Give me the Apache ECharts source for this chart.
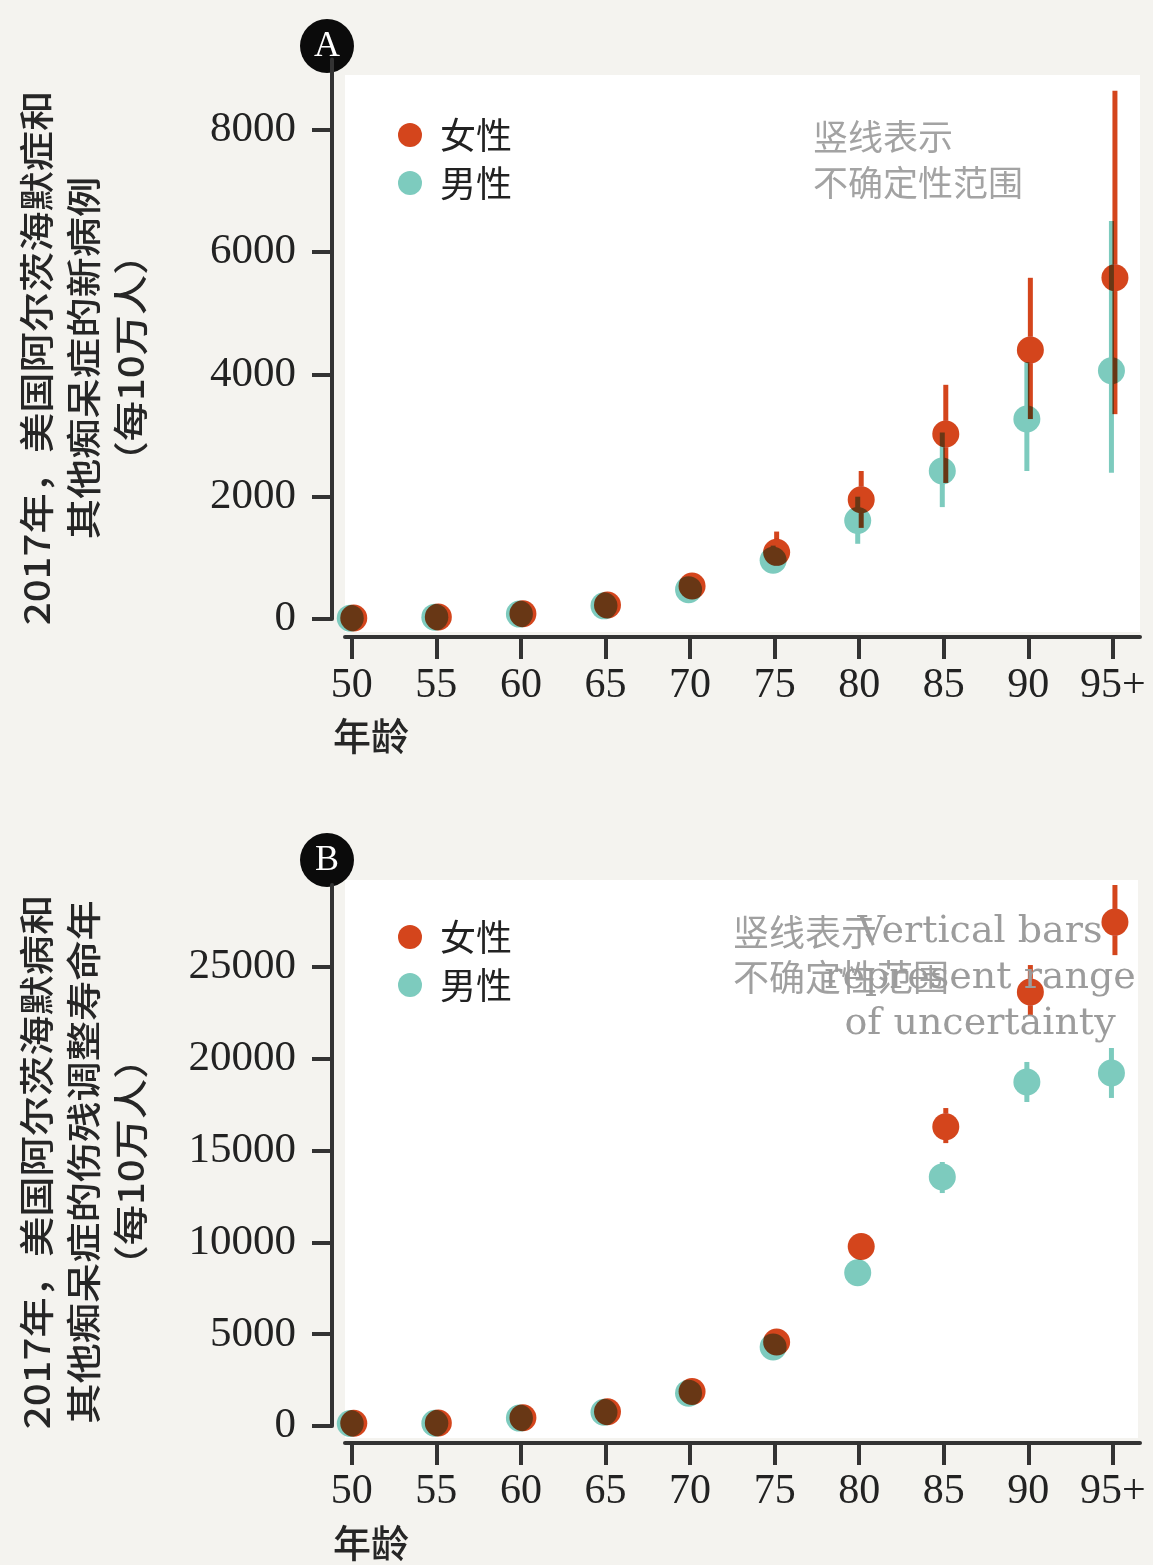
<!DOCTYPE html>
<html>
<head>
<meta charset="utf-8">
<script src="https://cdn.jsdelivr.net/npm/echarts@6/dist/echarts.min.js"></script>
<style>
  html, body { margin: 0; padding: 0; background: #f4f3ef; }
  #chart { width: 1153px; height: 1565px; }
</style>
</head>
<body>
<div id="chart"></div>
<script>
// Age groups (x axis)
const ageLabels = ['50', '55', '60', '65', '70', '75', '80', '85', '90', '95+'];
const ageValues = [50, 55, 60, 65, 70, 75, 80, 85, 90, 95];

// Panel A: new cases of Alzheimer's and other dementias per 100k, 2017, US
const casesFemale     = [16, 33, 85, 230, 540, 1090, 1950, 3025, 4400, 5580];
const casesFemaleLow  = [8, 22, 65, 190, 450, 870, 1490, 2225, 3270, 3350];
const casesFemaleHigh = [26, 45, 105, 275, 640, 1430, 2420, 3830, 5580, 8640];
const casesMale       = [14, 30, 80, 215, 480, 960, 1610, 2420, 3270, 4060];
const casesMaleLow    = [7, 20, 62, 180, 400, 760, 1230, 1830, 2420, 2390];
const casesMaleHigh   = [22, 40, 98, 255, 570, 1200, 2000, 3050, 4200, 6510];
const casesTicks = [0, 2000, 4000, 6000, 8000];

// Panel B: DALYs of Alzheimer's and other dementias per 100k, 2017, US
const dalyFemale     = [150, 160, 450, 780, 1880, 4580, 9780, 16300, 23640, 27450];
const dalyFemaleLow  = [90, 100, 350, 650, 1650, 4200, 9300, 15410, 22390, 25650];
const dalyFemaleHigh = [220, 230, 560, 920, 2150, 4950, 10300, 17320, 25110, 29470];
const dalyMale       = [140, 150, 430, 750, 1790, 4300, 8350, 13560, 18740, 19230];
const dalyMaleLow    = [85, 95, 340, 630, 1570, 3950, 7900, 12690, 17650, 17870];
const dalyMaleHigh   = [200, 210, 530, 880, 2030, 4700, 8850, 14380, 19830, 20590];
const dalyTicks = [0, 5000, 10000, 15000, 20000, 25000];

const seriesNames = ['女性', '男性'];
const colorFemale = '#d4451c';
const colorMale = '#7dcbbe';

const DOT_R = 13.5;
const BAR_W = 5;
const INK = '#333333';
const CJK = 'Noto Sans CJK SC';

function rows(mid, low, high) {
  return ageValues.map((a, i) => [a, mid[i], low[i], high[i]]);
}

// Point with its uncertainty bar. When trimUnderDot is set the bar is split
// around the dot, so a multiplied series never darkens its own dot.
function pointWithBar(color, dodge, trimUnderDot) {
  return function (params, api) {
    const x = api.value(0);
    const c = api.coord([x, api.value(1)]);
    const lo = api.coord([x, api.value(2)]);
    const hi = api.coord([x, api.value(3)]);
    const cx = c[0] + dodge;
    const cy = c[1];
    const lineStyle = { stroke: color, lineWidth: BAR_W, lineCap: 'butt' };
    const children = [];
    if (trimUnderDot) {
      const edge = Math.sqrt(DOT_R * DOT_R - (BAR_W / 2) * (BAR_W / 2));
      if (hi[1] < cy - edge) {
        children.push({ type: 'line', shape: { x1: cx, y1: cy - edge, x2: cx, y2: hi[1] }, style: lineStyle });
      }
      if (lo[1] > cy + edge) {
        children.push({ type: 'line', shape: { x1: cx, y1: lo[1], x2: cx, y2: cy + edge }, style: lineStyle });
      }
    } else {
      children.push({ type: 'line', shape: { x1: cx, y1: lo[1], x2: cx, y2: hi[1] }, style: lineStyle });
    }
    children.push({ type: 'circle', shape: { cx: cx, cy: cy, r: DOT_R }, style: { fill: color } });
    return { type: 'group', children: children };
  };
}

function xAxisFor(gridIndex, offset) {
  return {
    gridIndex: gridIndex,
    type: 'value',
    min: 49.6,
    max: 96.6,
    position: 'bottom',
    offset: offset,
    axisLine: { show: true, onZero: false, lineStyle: { color: INK, width: 4 } },
    axisTick: { show: true, length: 22, customValues: ageValues, lineStyle: { color: INK, width: 4 } },
    axisLabel: {
      customValues: ageValues,
      formatter: v => ageLabels[ageValues.indexOf(v)],
      margin: 28,
      fontFamily: 'Liberation Serif',
      fontSize: 42,
      color: '#222'
    },
    splitLine: { show: false }
  };
}

function yAxisFor(gridIndex, max, ticks) {
  return {
    gridIndex: gridIndex,
    type: 'value',
    min: 0,
    max: max,
    offset: 13,
    axisLine: { show: true, onZero: false, lineStyle: { color: INK, width: 4 } },
    axisTick: { show: true, length: 20, customValues: ticks, lineStyle: { color: INK, width: 4 } },
    axisLabel: {
      customValues: ticks,
      formatter: v => String(v),
      margin: 36,
      fontFamily: 'Liberation Serif',
      fontSize: 43,
      color: '#222'
    },
    splitLine: { show: false }
  };
}

function legendFor(top) {
  return {
    left: 398,
    top: top,
    padding: 0,
    orient: 'vertical',
    icon: 'circle',
    itemWidth: 24,
    itemHeight: 24,
    itemGap: 8,
    selectedMode: false,
    data: seriesNames,
    textStyle: { fontFamily: CJK, fontSize: 36, color: '#222', lineHeight: 40, padding: [0, 0, 0, 13] }
  };
}

function panelSeries(axisIndex, female, male) {
  return [
    {
      name: seriesNames[1], type: 'custom', xAxisIndex: axisIndex, yAxisIndex: axisIndex,
      renderItem: pointWithBar(colorMale, -1.5, false),
      itemStyle: { color: colorMale },
      encode: { x: 0, y: 1 },
      data: male, z: 2
    },
    {
      name: seriesNames[0], type: 'custom', xAxisIndex: axisIndex, yAxisIndex: axisIndex,
      renderItem: pointWithBar(colorFemale, 2, true),
      itemStyle: { color: colorFemale },
      blendMode: 'multiply',
      encode: { x: 0, y: 1 },
      data: female, z: 3
    }
  ];
}

function badge(letter, y) {
  return {
    type: 'group', x: 327, y: y, z: 20,
    children: [
      { type: 'circle', shape: { cx: 0, cy: 0, r: 27 }, style: { fill: '#0b0b0b' } },
      { type: 'text', style: { text: letter, x: 0, y: 1, align: 'center', verticalAlign: 'middle',
        fill: '#ffffff', fontFamily: 'Liberation Serif', fontSize: 36 } }
    ]
  };
}

function axisTitle(text, y) {
  return {
    type: 'text', x: 84, y: y, rotation: Math.PI / 2, scaleX: 1.15, z: 20,
    style: { text: text, align: 'center', verticalAlign: 'middle', fill: '#262626',
      fontFamily: CJK, fontWeight: 500, fontSize: 35, lineHeight: 47 }
  };
}

function ageName(y) {
  return {
    type: 'text', x: 333, y: y, z: 20,
    style: { text: '年龄', align: 'left', verticalAlign: 'middle', fill: '#262626',
      fontFamily: CJK, fontWeight: 500, fontSize: 38 }
  };
}

const chart = echarts.init(document.getElementById('chart'), null, { renderer: 'canvas' });

chart.setOption({
  backgroundColor: '#f4f3ef',
  animation: false,
  grid: [
    { left: 345, width: 795, top: 59.5, height: 559.5 },
    { left: 345, width: 795, top: 885, height: 541 }
  ],
  xAxis: [xAxisFor(0, 18), xAxisFor(1, 17)],
  yAxis: [yAxisFor(0, 9150, casesTicks), yAxisFor(1, 29470, dalyTicks)],
  legend: [legendFor(115), legendFor(917)],
  series: [
    ...panelSeries(0, rows(casesFemale, casesFemaleLow, casesFemaleHigh), rows(casesMale, casesMaleLow, casesMaleHigh)),
    ...panelSeries(1, rows(dalyFemale, dalyFemaleLow, dalyFemaleHigh), rows(dalyMale, dalyMaleLow, dalyMaleHigh))
  ],
  graphic: [
    { type: 'rect', shape: { x: 345, y: 75, width: 795, height: 557 }, style: { fill: '#ffffff' }, z: 0 },
    { type: 'rect', shape: { x: 345, y: 880, width: 793, height: 558 }, style: { fill: '#ffffff' }, z: 0 },
    badge('A', 46),
    badge('B', 860),
    axisTitle('2017年，美国阿尔茨海默症和\n其他痴呆症的新病例\n（每10万人）', 358),
    axisTitle('2017年，美国阿尔茨海默病和\n其他痴呆症的伤残调整寿命年\n（每10万人）', 1162),
    ageName(736),
    ageName(1543),
    { type: 'text', x: 813, y: 114, z: 20,
      style: { text: '竖线表示\n不确定性范围', fill: '#a3a3a3', fontFamily: CJK, fontSize: 35, lineHeight: 46,
        align: 'left', verticalAlign: 'top' } },
    { type: 'text', x: 733, y: 910, z: 20,
      style: { text: '竖线表示\n不确定性范围', fill: '#a0a0a0', fontFamily: CJK, fontSize: 36, lineHeight: 45,
        align: 'left', verticalAlign: 'top' } },
    { type: 'text', x: 980, y: 909, z: 21,
      style: { text: 'Vertical bars\nrepresent range\nof uncertainty', fill: '#9c9c9c', fontFamily: 'DejaVu Serif',
        fontSize: 38, lineHeight: 46, align: 'center', verticalAlign: 'top' } }
  ]
});
</script>
</body>
</html>
